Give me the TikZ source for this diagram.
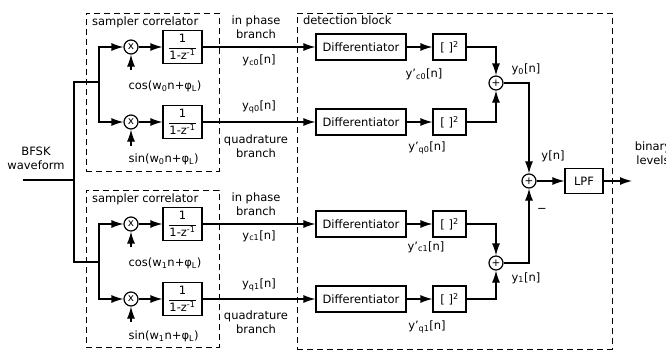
\documentclass[tikz,border=0pt]{standalone}
\usepackage{fontspec}
\setmainfont{DejaVu Sans}
\usepackage{amsmath}
\usetikzlibrary{arrows.meta,positioning}

\begin{document}
\begin{tikzpicture}[x=1pt, y=-1pt, line width=1.2pt, >={Latex[length=12pt,width=8pt]},
	font=\fontsize{11.5}{14}\selectfont,
	block/.style = {draw, minimum height=26pt, inner sep=2pt},
	integ/.style = {draw, minimum width=39pt, minimum height=33pt, inner sep=0pt},
	mult/.style = {draw, circle, minimum size=14pt, inner sep=0pt, font=\fontsize{10.5}{10.5}\selectfont},
	group/.style = {draw, line width=1pt, dash pattern=on 6pt off 4pt, inner sep=0pt},
	lbl/.style = {inner sep=1pt, align=center}]
	\useasboundingbox (0,0) rectangle (666,351);

	% dashed groups
	\node[group, minimum width=133pt, minimum height=158pt] (sc0) at (152.5,92) {};
	\node[group, minimum width=133pt, minimum height=157pt] (sc1) at (152.5,268.5) {};
	\node[group, minimum width=315pt, minimum height=336pt] (det) at (454.5,181) {};
	\node[lbl, anchor=north west] at ([xshift=5pt,yshift=-3pt]sc0.north west) {sampler correlator};
	\node[lbl, anchor=north west] at ([xshift=5pt,yshift=-3pt]sc1.north west) {sampler correlator};
	\node[lbl, anchor=north west] at ([xshift=5pt,yshift=-2pt]det.north west) {detection block};

	% input
	\coordinate (in) at (23,180);
	\coordinate (fork) at (74,180);
	\coordinate (split0) at (99,82);
	\coordinate (split1) at (99,262);
	\node[lbl] (bfsk) at (36,158) {BFSK\\waveform};

	% mixers and integrators
	\node[mult] (m0c) at (131,47) {x};
	\node[mult] (m0s) at (131,122) {x};
	\node[mult] (m1c) at (131,224) {x};
	\node[mult] (m1s) at (131,299) {x};
	\node[integ] (i0c) at (182.5,47) {$\dfrac{\text{1}}{\text{1-z\textsuperscript{-1}}}$};
	\node[integ] (i0s) at (182.5,122) {$\dfrac{\text{1}}{\text{1-z\textsuperscript{-1}}}$};
	\node[integ] (i1c) at (182.5,224) {$\dfrac{\text{1}}{\text{1-z\textsuperscript{-1}}}$};
	\node[integ] (i1s) at (182.5,299) {$\dfrac{\text{1}}{\text{1-z\textsuperscript{-1}}}$};

	% local oscillators
	\coordinate (f0c) at (131,70);
	\coordinate (f0s) at (131,146);
	\coordinate (f1c) at (131,247);
	\coordinate (f1s) at (131,322);
	\node[lbl, anchor=north west] (cos0) at (127,79) {cos(w\textsubscript{0}n+φ\textsubscript{L})};
	\node[lbl, anchor=north west] (sin0) at (127,152) {sin(w\textsubscript{0}n+φ\textsubscript{L})};
	\node[lbl, anchor=north west] (cos1) at (127,256) {cos(w\textsubscript{1}n+φ\textsubscript{L})};
	\node[lbl, anchor=north west] (sin1) at (127,329) {sin(w\textsubscript{1}n+φ\textsubscript{L})};

	% detection block
	\node[block, minimum width=90pt] (d0c) at (361,47) {Differentiator};
	\node[block, minimum width=90pt] (d0s) at (361,122) {Differentiator};
	\node[block, minimum width=90pt] (d1c) at (361,224) {Differentiator};
	\node[block, minimum width=90pt] (d1s) at (361,299) {Differentiator};
	\node[block, minimum width=33pt] (q0c) at (449.5,47) {[ ]\textsuperscript{2}};
	\node[block, minimum width=33pt] (q0s) at (449.5,122) {[ ]\textsuperscript{2}};
	\node[block, minimum width=33pt] (q1c) at (449.5,224) {[ ]\textsuperscript{2}};
	\node[block, minimum width=33pt] (q1s) at (449.5,299) {[ ]\textsuperscript{2}};
	\node[mult] (sum0) at (496,83) {+};
	\node[mult] (sum1) at (496,263) {+};
	\node[mult] (sum) at (529,181) {+};
	\node[block, minimum width=38pt, minimum height=25pt] (lpf) at (584,181) {LPF};
	\coordinate (out) at (632,181);

	% signal labels
	\node[lbl] at (256,27) {in phase\\branch};
	\node[lbl] at (256,146) {quadrature\\branch};
	\node[lbl] at (256,204.5) {in phase\\branch};
	\node[lbl] at (256,322) {quadrature\\branch};
	\node[lbl] at (259,60) {y\textsubscript{c0}[n]};
	\node[lbl] at (259,107) {y\textsubscript{q0}[n]};
	\node[lbl] at (259,236) {y\textsubscript{c1}[n]};
	\node[lbl] at (259,285) {y\textsubscript{q1}[n]};
	\node[lbl] at (424,74) {y'\textsubscript{c0}[n]};
	\node[lbl] at (427,148) {y'\textsubscript{q0}[n]};
	\node[lbl] at (426,247) {y'\textsubscript{c1}[n]};
	\node[lbl] at (427,327) {y'\textsubscript{q1}[n]};
	\node[lbl] at (526,69) {y\textsubscript{0}[n]};
	\node[lbl] at (526,278) {y\textsubscript{1}[n]};
	\node[lbl] at (553,156) {y[n]};
	\node[lbl] at (542,210) {−};
	\node[lbl] at (653,153) {binary\\levels};

	% wiring
	\draw (in) -- (fork) |- (split0);
	\draw (fork) |- (split1);
	\draw[->] (split0) |- (m0c);
	\draw[->] (split0) |- (m0s);
	\draw[->] (split1) |- (m1c);
	\draw[->] (split1) |- (m1s);
	\foreach \r in {0c,0s,1c,1s} {
		\draw[->] (f\r) -- (m\r);
		\draw[->] (m\r) -- (i\r);
		\draw[->] (i\r) -- (d\r);
		\draw[->] (d\r) -- (q\r);
	}
	\draw[->] (q0c) -| (sum0);
	\draw[->] (q0s) -| (sum0);
	\draw[->] (q1c) -| (sum1);
	\draw[->] (q1s) -| (sum1);
	\draw[->] (sum0) -| (sum);
	\draw[->] (sum1) -| (sum);
	\draw[->] (sum) -- (lpf);
	\draw[->] (lpf) -- (out);
\end{tikzpicture}
\end{document}
